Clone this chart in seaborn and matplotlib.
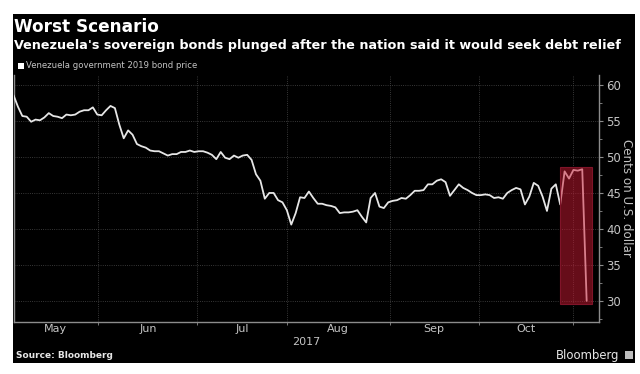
import numpy as np
import pandas as pd
import matplotlib
matplotlib.use('Agg')
import matplotlib.pyplot as plt
from matplotlib.patches import Rectangle
from matplotlib.ticker import FixedLocator, FixedFormatter, MultipleLocator
import seaborn as sns

# Precio del bono, un valor por dia habil
bond_price = [
    58.6, 57.0, 55.7, 55.6, 54.9, 55.2, 55.1, 55.5, 56.1, 55.7,
    55.6, 55.4, 55.9, 55.8, 55.9, 56.3, 56.5, 56.5, 56.9, 55.9,
    55.8, 56.5, 57.1, 56.8, 54.5, 52.6, 53.7, 53.1, 51.8, 51.5,
    51.3, 50.9, 50.8, 50.8, 50.5, 50.2, 50.4, 50.4, 50.7, 50.7,
    50.9, 50.7, 50.8, 50.8, 50.6, 50.3, 49.7, 50.7, 49.9, 49.7,
    50.2, 49.9, 50.2, 50.3, 49.6, 47.6, 46.7, 44.2, 45.0, 45.0,
    44.0, 43.7, 42.6, 40.6, 42.2, 44.4, 44.3, 45.2, 44.3, 43.5,
    43.5, 43.3, 43.2, 43.0, 42.2, 42.3, 42.3, 42.4, 42.6, 41.7,
    40.9, 44.3, 45.0, 43.1, 42.9, 43.7, 43.9, 44.0, 44.3, 44.2,
    44.7, 45.3, 45.3, 45.4, 46.2, 46.2, 46.7, 46.9, 46.5, 44.6,
    45.4, 46.2, 45.7, 45.4, 45.0, 44.7, 44.7, 44.8, 44.7, 44.3,
    44.4, 44.2, 45.0, 45.4, 45.7, 45.5, 43.4, 44.5, 46.4, 46.0,
    44.5, 42.5, 45.6, 46.2, 43.4, 48.0, 47.0, 48.2, 48.1, 48.3,
    30.0,
]
month_starts = [19.2, 41.6, 62.0, 85.4, 105.6, 126.9]
month_centers = [9.6, 30.5, 51.8, 73.6, 95.4, 116.2]
month_labels = ['May', 'Jun', 'Jul', 'Aug', 'Sep', 'Oct']
y_ticks = [30, 35, 40, 45, 50, 55, 60]

GREY = '#c4c4c4'
W, H = 640, 374

df = pd.DataFrame({'day': np.arange(len(bond_price)), 'price': bond_price})

sns.set_theme(style='white')
plt.rcParams['font.family'] = ['DejaVu Sans']

fig = plt.figure(figsize=(W / 100, H / 100), dpi=100, facecolor='white')
# panel negro de fondo
fig.patches.append(Rectangle((13 / W, 1 - 363 / H), 622 / W, 349 / H, transform=fig.transFigure,
                             facecolor='black', edgecolor='none', zorder=-5))
ax = fig.add_axes([13.5 / W, 1 - 321.7 / H, 585.5 / W, 246.7 / H])
ax.set_facecolor('none')

sns.lineplot(data=df, x='day', y='price', ax=ax, color='#e6e6e6', linewidth=1.3, zorder=3)

ax.set_xlim(0, 132.8)
ax.set_ylim(27.1, 61.4)

# recuadro rojo sobre la caida
ax.add_patch(Rectangle((123.9, 29.6), 7.3, 19.05, facecolor=(0.8, 0.1, 0.2, 0.5),
                       edgecolor=(0.5, 0.08, 0.16, 1), linewidth=0.8, zorder=4))

# ejes
ax.spines['top'].set_visible(False)
for side in ['left', 'bottom', 'right']:
    ax.spines[side].set_color('#8c8c8c')
    ax.spines[side].set_linewidth(1.0)

ax.yaxis.tick_right()
ax.yaxis.set_label_position('right')
ax.set_yticks(y_ticks)
ax.yaxis.set_minor_locator(MultipleLocator(2.5))
ax.tick_params(axis='y', which='major', length=3, width=0.8, color='#8c8c8c', labelcolor=GREY,
               labelsize=8.5, pad=2, right=True, left=False)
ax.tick_params(axis='y', which='minor', length=2, width=0.6, color='#8c8c8c', right=True, left=False)
ax.set_ylabel('Cents on U.S. dollar', color=GREY, fontsize=8.6, rotation=270, labelpad=9)

ax.xaxis.set_major_locator(FixedLocator(month_starts))
ax.xaxis.set_major_formatter(FixedFormatter([''] * len(month_starts)))
ax.xaxis.set_minor_locator(FixedLocator(month_centers))
ax.xaxis.set_minor_formatter(FixedFormatter(month_labels))
ax.tick_params(axis='x', which='major', length=2, width=0.6, color='#8c8c8c', bottom=True)
ax.tick_params(axis='x', which='minor', length=0, labelcolor=GREY, labelsize=8, pad=2)
ax.set_xlabel('')

ax.grid(True, axis='both', which='major', color='#4a4a4a', linestyle=':', linewidth=0.6)
ax.set_axisbelow(True)

# textos
def put(x, y, s, **kw):
    kw.setdefault('va', 'center')
    fig.text(x / W, 1 - y / H, s, **kw)

put(14, 27, 'Worst Scenario', color='white', fontsize=12.2, fontweight='bold')
put(13.5, 45.5, "Venezuela's sovereign bonds plunged after the nation said it would seek debt relief",
    color='white', fontsize=9.22, fontweight='bold')
put(26, 66, 'Venezuela government 2019 bond price', color=GREY, fontsize=6.1)
fig.patches.append(Rectangle((18 / W, 1 - 69 / H), 6 / W, 6 / H, transform=fig.transFigure,
                             facecolor='white', edgecolor='none'))
put(306, 342, '2017', color=GREY, fontsize=8, ha='center')
put(16, 356, 'Source: Bloomberg', color='#e6e6e6', fontsize=6.5, fontweight='bold')
put(556, 355, 'Bloomberg', color='#e6e6e6', fontsize=8.4)
fig.patches.append(Rectangle((625 / W, 1 - 359 / H), 8 / W, 8 / H, transform=fig.transFigure,
                             facecolor='#bdbdbd', edgecolor='none'))

fig.savefig('out.png', dpi=100, facecolor='white')
